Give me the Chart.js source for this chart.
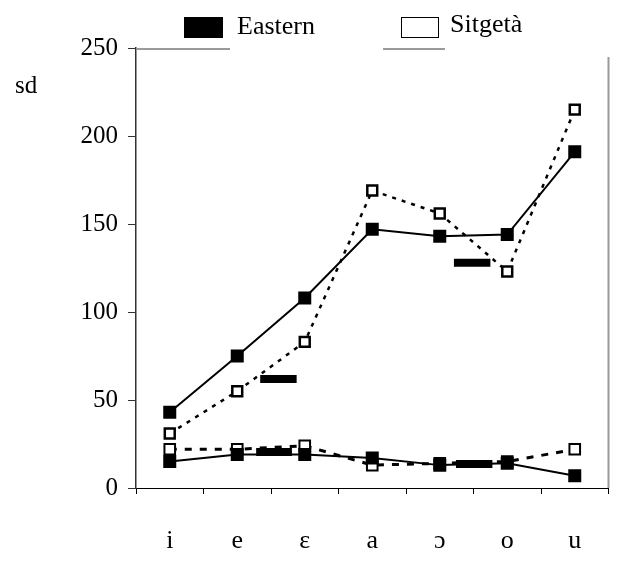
<!DOCTYPE html>
<html>
<head>
<meta charset="utf-8">
<script src="https://cdn.jsdelivr.net/npm/chart.js@4/dist/chart.umd.min.js"></script>
<style>
  html, body { margin: 0; padding: 0; background: #fff; }
  #wrap { width: 618px; height: 564px; }
</style>
</head>
<body>
<div id="wrap"><canvas id="sd-chart" width="618" height="564"></canvas></div>
<script>
const vowels = ['i', 'e', 'ɛ', 'a', 'ɔ', 'o', 'u'];
const yTicks = [0, 50, 100, 150, 200, 250];
const easternHigh = [43, 75, 108, 147, 143, 144, 191];
const sitgetaHigh = [31, 55, 83, 169, 156, 123, 215];
const easternLow = [15, 19, 19, 17, 13, 14, 7];
const sitgetaLow = [22, 22, 24, 13, 14, 15, 22];
// stray black bars (in vowel units on the x axis)
const barFrom = [1.34, 4.21, 1.28, 4.24];
const barTo = [1.88, 4.75, 1.81, 4.78];
const barLevel = [62, 128, 20.5, 13.6];
const legendNames = ['Eastern', 'Sitgetà'];

Chart.defaults.font.family = "'Liberation Serif', 'Times New Roman', serif";
Chart.defaults.font.size = 25;
Chart.defaults.color = '#000';

// frame bits, legend and the "sd" label
const decor = {
    id: 'decor',
    beforeDatasetsDraw(chart) {
        const ctx = chart.ctx;
        const a = chart.chartArea;
        ctx.save();
        ctx.strokeStyle = '#9a9a9a';
        ctx.lineWidth = 2;
        ctx.beginPath();
        ctx.moveTo(a.right, a.top + 9);
        ctx.lineTo(a.right, a.bottom);
        ctx.moveTo(a.left + 1, a.top + 1);
        ctx.lineTo(230, a.top + 1);
        ctx.moveTo(383, a.top + 1);
        ctx.lineTo(445, a.top + 1);
        ctx.stroke();
        ctx.restore();
    },
    afterDraw(chart) {
        const ctx = chart.ctx;
        ctx.save();
        ctx.fillStyle = '#000';
        ctx.fillRect(184, 17, 39, 21);
        ctx.fillStyle = '#fff';
        ctx.fillRect(401.5, 17.5, 37, 20);
        ctx.strokeStyle = '#000';
        ctx.lineWidth = 1;
        ctx.strokeRect(401.5, 17.5, 37, 20);
        ctx.fillStyle = '#000';
        ctx.textBaseline = 'alphabetic';
        ctx.font = "26px 'Liberation Serif', serif";
        ctx.fillText(legendNames[0], 237, 34);
        ctx.fillText(legendNames[1], 450, 32);
        ctx.font = "25px 'Liberation Serif', serif";
        ctx.fillText('sd', 15, 93);
        ctx.restore();
    }
};

function barSet(i) {
    return {
        data: [{ x: barFrom[i], y: barLevel[i] }, { x: barTo[i], y: barLevel[i] }],
        xAxisID: 'xb',
        borderColor: '#000',
        borderWidth: 8,
        borderCapStyle: 'butt',
        pointRadius: 0
    };
}

const ctx = document.getElementById('sd-chart').getContext('2d');
new Chart(ctx, {
    type: 'line',
    data: {
        labels: vowels,
        datasets: [
            barSet(0), barSet(1), barSet(2), barSet(3),
            {
                label: 'Eastern',
                data: easternHigh,
                borderColor: '#000',
                borderWidth: 2,
                pointStyle: 'rect',
                pointRadius: 9.2,
                pointBackgroundColor: '#000',
                pointBorderWidth: 0
            },
            {
                label: 'Eastern',
                data: easternLow,
                borderColor: '#000',
                borderWidth: 2,
                pointStyle: 'rect',
                pointRadius: 9.2,
                pointBackgroundColor: '#000',
                pointBorderWidth: 0
            },
            {
                label: 'Sitgetà',
                data: sitgetaHigh,
                borderColor: '#000',
                borderWidth: 2.5,
                borderDash: [4, 6],
                pointStyle: 'rect',
                pointRadius: 7,
                pointBackgroundColor: '#fff',
                pointBorderColor: '#000',
                pointBorderWidth: 2.5
            },
            {
                label: 'Sitgetà',
                data: sitgetaLow,
                borderColor: '#000',
                borderWidth: 3,
                borderDash: [7, 8],
                pointStyle: 'rect',
                pointRadius: 7.5,
                pointBackgroundColor: '#fff',
                pointBorderColor: '#000',
                pointBorderWidth: 2
            }
        ]
    },
    options: {
        responsive: false,
        animation: false,
        layout: { padding: { left: 0, top: 48, right: 6, bottom: 0 } },
        scales: {
            x: {
                type: 'category',
                offset: true,
                grid: { offset: true, drawOnChartArea: false, tickLength: 6, color: '#000' },
                border: { color: '#000', width: 1 },
                ticks: { padding: 32, autoSkip: false, maxRotation: 0, font: { size: 26 } },
                afterFit(scale) { scale.height = 76; }
            },
            xb: {
                type: 'linear',
                display: false,
                min: -0.5,
                max: 6.5
            },
            y: {
                min: 0,
                max: 250,
                afterBuildTicks(scale) { scale.ticks = yTicks.map(v => ({ value: v })); },
                grid: { drawOnChartArea: false, tickLength: 8, color: '#333' },
                border: { color: '#333', width: 1.5 },
                ticks: { padding: 10 },
                afterFit(scale) { scale.width = 136; }
            }
        },
        plugins: {
            legend: { display: false },
            tooltip: { enabled: false }
        }
    },
    plugins: [decor]
});
</script>
</body>
</html>
